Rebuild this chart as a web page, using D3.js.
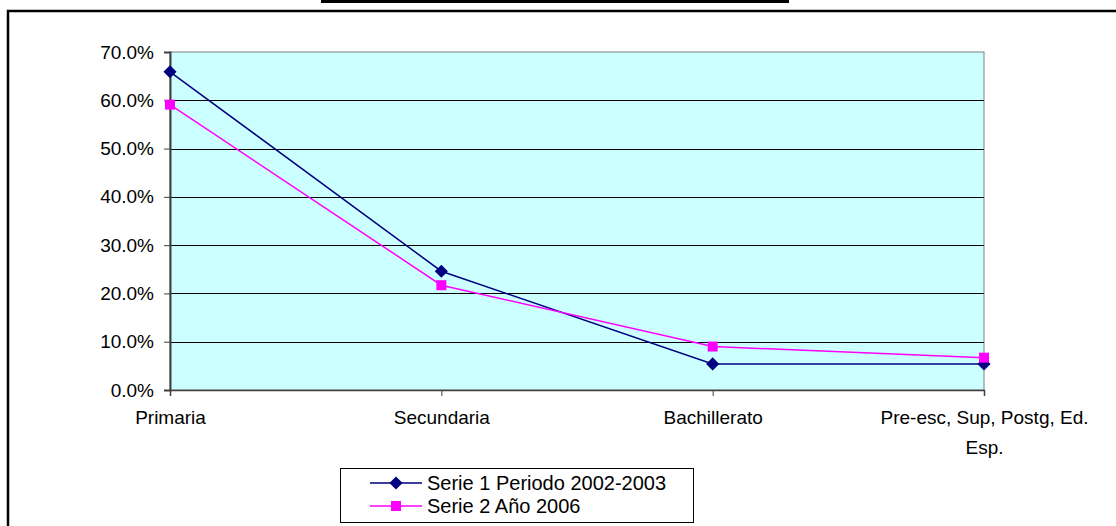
<!DOCTYPE html>
<html><head><meta charset="utf-8">
<script src="https://cdn.jsdelivr.net/npm/d3@7"></script>
<style>body{margin:0;background:#fff;}svg{display:block;font-family:"Liberation Sans",Arial,sans-serif;}</style>
</head><body>
<svg id="c" width="1116" height="526"></svg>
<script>
const categories = ["Primaria", "Secundaria", "Bachillerato", "Pre-esc, Sup, Postg, Ed. Esp."];
const serie1 = [0.659, 0.246, 0.054, 0.054];
const serie2 = [0.591, 0.217, 0.090, 0.067];
const seriesNames = ["Serie 1 Periodo 2002-2003", "Serie 2 Año 2006"];
const yTicks = [0, 0.1, 0.2, 0.3, 0.4, 0.5, 0.6, 0.7];

const svg = d3.select("#c");
const FF = "Liberation Sans, Arial, sans-serif";
// decorative top bar and outer frame
svg.append("rect").attr("x",321).attr("y",0).attr("width",468).attr("height",3).attr("fill","#000");
svg.append("path").attr("d","M8,530 L8,11 L1120,11").attr("fill","none").attr("stroke","#000").attr("stroke-width",2.5);

const L=170, R=984, T=52, B=390;
const x = d3.scalePoint().domain(categories).range([L,R]);
const y = d3.scaleLinear().domain([0,0.7]).range([B,T]);

svg.append("rect").attr("x",L).attr("y",T).attr("width",R-L).attr("height",B-T).attr("fill","#CCFFFF").attr("stroke","#808080").attr("stroke-width",1);

// gridlines
svg.append("g").selectAll("line").data(yTicks.filter(d=>d>0 && d<0.7)).join("line")
  .attr("x1",L).attr("x2",R).attr("y1",d=>Math.round(y(d))+0.5).attr("y2",d=>Math.round(y(d))+0.5)
  .attr("stroke","#000").attr("stroke-width",1);

// y axis
const ya = svg.append("g").attr("transform",`translate(${L},0)`)
  .call(d3.axisLeft(y).tickValues(yTicks).tickFormat(d3.format(".1%")).tickSize(6).tickPadding(10));
ya.attr("font-size",19).attr("font-family",FF);
ya.select(".domain").attr("stroke","#404040").attr("stroke-width",2);
ya.selectAll(".tick line").attr("stroke","#404040");
ya.selectAll("text").attr("fill","#000");

// x axis
const xa = svg.append("g").attr("transform",`translate(0,${B})`)
  .call(d3.axisBottom(x).tickSize(6).tickPadding(15));
xa.attr("font-size",19).attr("font-family",FF);
xa.select(".domain").attr("stroke","#404040").attr("stroke-width",1.5);
xa.selectAll(".tick line").attr("stroke","#404040");
xa.selectAll("text").attr("fill","#000")
  .each(function(d){
    if (d.length > 20) {
      const t = d3.select(this); t.text(null);
      t.append("tspan").attr("x",0).attr("dy","0.71em").text("Pre-esc, Sup, Postg, Ed.");
      t.append("tspan").attr("x",0).attr("dy","1.53em").text("Esp.");
      t.attr("dy",null);
    }
  });

const line = d3.line().x((d,i)=>x(categories[i])).y(d=>y(d));
svg.append("path").datum(serie1).attr("d",line).attr("fill","none").attr("stroke","#000080").attr("stroke-width",1.5);
svg.append("path").datum(serie2).attr("d",line).attr("fill","none").attr("stroke","#FF00FF").attr("stroke-width",1.5);

const diamond = d3.symbol().type(d3.symbolDiamond2).size(110);
svg.append("g").selectAll("path").data(serie1).join("path")
  .attr("transform",(d,i)=>`translate(${x(categories[i])},${y(d)})`).attr("d",diamond).attr("fill","#000080");
svg.append("g").selectAll("rect").data(serie2).join("rect")
  .attr("x",(d,i)=>x(categories[i])-5).attr("y",d=>y(d)-5).attr("width",10).attr("height",10).attr("fill","#FF00FF");

// legend
const lg = svg.append("g");
lg.append("rect").attr("x",340.5).attr("y",468.5).attr("width",353).attr("height",54).attr("fill","#fff").attr("stroke","#000");
const rows = [{n:seriesNames[0],c:"#000080",m:"d"},{n:seriesNames[1],c:"#FF00FF",m:"s"}];
rows.forEach((r,i)=>{
  const yy = 483 + i*23;
  lg.append("line").attr("x1",370).attr("x2",422).attr("y1",yy).attr("y2",yy).attr("stroke",r.c).attr("stroke-width",1.5);
  if (r.m==="d") lg.append("path").attr("transform",`translate(396,${yy})`).attr("d",diamond).attr("fill",r.c);
  else lg.append("rect").attr("x",391).attr("y",yy-5).attr("width",10).attr("height",10).attr("fill",r.c);
  lg.append("text").attr("x",427).attr("y",yy).attr("dy","0.36em").attr("font-size",20).attr("font-family",FF).text(r.n);
});
</script>
</body></html>
